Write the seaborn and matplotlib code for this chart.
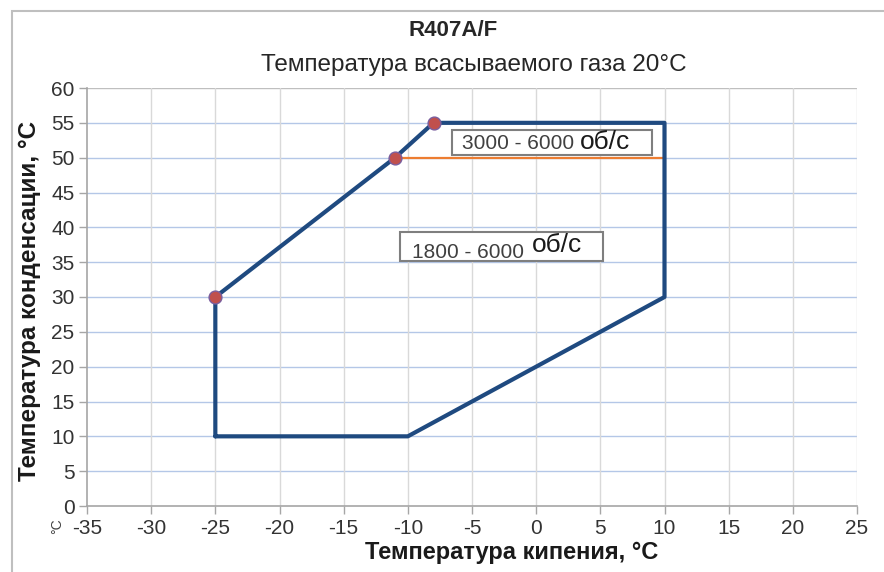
import numpy as np
import pandas as pd
import seaborn as sns
import matplotlib.pyplot as plt
from matplotlib.patches import Rectangle

# envelope outline (evaporating temp, condensing temp)
env_x = [-25, -10, 10, 10, -8, -11, -25, -25]
env_y = [10, 10, 30, 55, 55, 50, 30, 10]
# marked corner points
pts_x = [-8, -11, -25]
pts_y = [55, 50, 30]
# speed split line
split_x = [-11, 10]
split_y = [50, 50]

x_ticks = list(range(-35, 30, 5))
y_ticks = list(range(0, 65, 5))

sns.set_style("white")
plt.rcParams['font.family'] = ['Liberation Sans', 'DejaVu Sans']

fig = plt.figure(figsize=(8.84, 5.72), dpi=100)
ax = fig.add_axes([87 / 884, 1 - 506 / 572, 770 / 884, 418 / 572])

# outer frame of the chart
fig.patches.append(Rectangle((12 / 884, -0.1), 1.2, 1.1 - 11 / 572, transform=fig.transFigure,
                             fill=False, edgecolor='#BFBFBF', linewidth=1.5, zorder=0))

env = pd.DataFrame({'x': env_x, 'y': env_y})
sns.lineplot(data=env, x='x', y='y', sort=False, estimator=None, color='#1F4A80',
             linewidth=3.0, ax=ax, zorder=4)
sns.lineplot(x=split_x, y=split_y, color='#ED7D31', linewidth=1.6, ax=ax, zorder=3)
sns.scatterplot(x=pts_x, y=pts_y, s=85, color='#C0504D', edgecolor='#7A5E9E',
                linewidth=1.0, ax=ax, zorder=5)

ax.set_xlim(-35, 25)
ax.set_ylim(0, 60)
ax.set_xticks(x_ticks)
ax.set_yticks(y_ticks)
ax.set_xticklabels([str(v) for v in x_ticks])
ax.set_yticklabels([str(v) for v in y_ticks])
ax.tick_params(axis='both', labelsize=15, labelcolor='#333333', length=6, width=1,
               direction='out', bottom=True, left=True, pad=3, color='#A6A6A6')

for y in y_ticks[1:]:
    ax.axhline(y, color='#B4C7E7' if y < 60 else '#BFBFBF', linewidth=1, zorder=0)
for x in x_ticks[1:]:
    ax.axvline(x, color='#D9D9D9', linewidth=1, zorder=0)

for s in ['top', 'right']:
    ax.spines[s].set_visible(False)
for s in ['left', 'bottom']:
    ax.spines[s].set_color('#A6A6A6')
    ax.spines[s].set_linewidth(1.2)

ax.set_xlabel('')
ax.set_ylabel('')

# speed range boxes
ax.add_patch(Rectangle((-6.55, 50.4), 15.6, 3.5, facecolor='white', edgecolor='#7F7F7F',
                       linewidth=1.5, zorder=6))
ax.text(-5.8, 52.1, '3000 - 6000', fontsize=15, color='#404040', va='center', ha='left', zorder=7)
ax.text(3.4, 52.2, 'об/с', fontsize=19, color='#1A1A1A', va='center', ha='left', zorder=7)

ax.add_patch(Rectangle((-10.6, 35.1), 15.8, 4.2, facecolor='white', edgecolor='#7F7F7F',
                       linewidth=1.5, zorder=6))
ax.text(-9.7, 36.4, '1800 - 6000', fontsize=15, color='#404040', va='center', ha='left', zorder=7)
ax.text(-0.3, 37.4, 'об/с', fontsize=19, color='#1A1A1A', va='center', ha='left', zorder=7)

fig.text(453 / 884, 1 - 31 / 572, 'R407A/F', fontsize=16, fontweight='bold', color='#262626',
         ha='center', va='center')
fig.text(474 / 884, 1 - 65 / 572, 'Температура всасываемого газа 20°C', fontsize=17.5,
         color='#262626', ha='center', va='center')
fig.text(512 / 884, 1 - 552 / 572, 'Температура кипения, °C', fontsize=17, fontweight='bold',
         color='#1A1A1A', ha='center', va='center')
fig.text(30 / 884, 1 - 301 / 572, 'Температура конденсации, °C', fontsize=17.5, fontweight='bold',
         color='#1A1A1A', ha='center', va='center', rotation=90)
fig.text(57 / 884, 1 - 526 / 572, '°C', fontsize=10, color='#404040', ha='center', va='center',
         rotation=90)

fig.savefig('out.png', dpi=100)
